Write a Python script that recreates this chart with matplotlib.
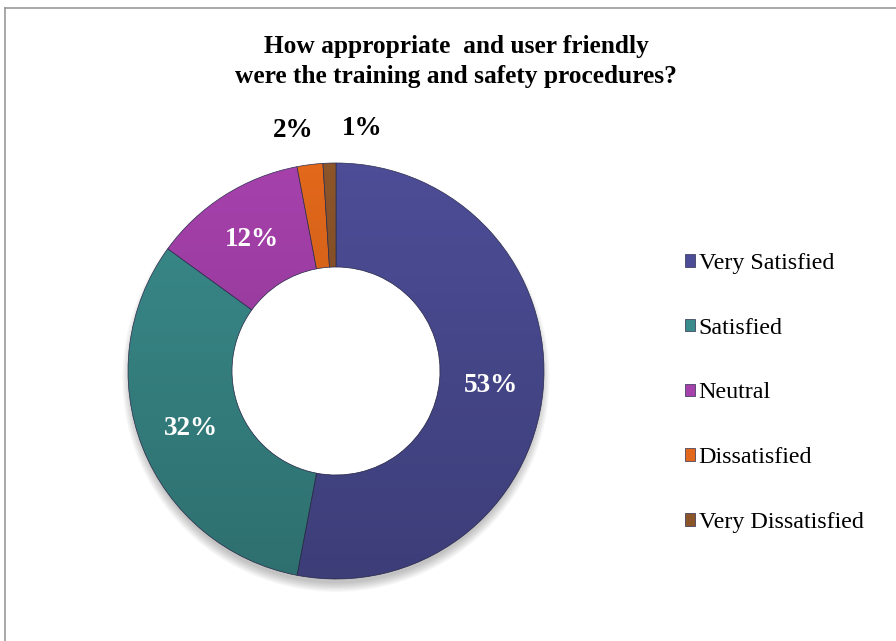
import numpy as np
import matplotlib
matplotlib.use("Agg")
import matplotlib.pyplot as plt
from matplotlib.lines import Line2D
from matplotlib.patches import Circle
import matplotlib.transforms as mtransforms

# ---- data -------------------------------------------------------------
categories = ["Very Satisfied", "Satisfied", "Neutral", "Dissatisfied",
              "Very Dissatisfied"]
shares = [53, 32, 12, 2, 1]
colors = ["#4C4D96", "#3A8B8B", "#A641AC", "#E2681B", "#8C5429"]
title_lines = ["How appropriate  and user friendly",
               "were the training and safety procedures?"]

W, H = 896, 641
plt.rcParams["font.family"] = ["Liberation Serif", "DejaVu Serif"]
fig = plt.figure(figsize=(W / 100, H / 100), dpi=100)
fig.patch.set_facecolor("white")

# chart frame (left and top edges visible)
fig.add_artist(Line2D([5 / W, 5 / W], [0, 1 - 8 / H], color="#9a9a9a",
                      lw=1.2, transform=fig.transFigure))
fig.add_artist(Line2D([5 / W, 1], [1 - 8 / H, 1 - 8 / H], color="#9a9a9a",
                      lw=1.2, transform=fig.transFigure))

# donut axes: centre (336, 371) px, outer radius 208 px
cx, cy, R = 336, 371, 208
half = 230
ax = fig.add_axes([(cx - half) / W, (H - cy - half) / H,
                   2 * half / W, 2 * half / H])
lim = half / R

# soft drop shadow under the ring
for k in range(8):
    ax.add_patch(Circle((0, -0.035), 0.985 + 0.006 * k, facecolor="#000000",
                        alpha=0.03, edgecolor="none", zorder=0))

wedges, texts, autotexts = ax.pie(
    shares, colors=colors, radius=1.0, startangle=90, counterclock=False,
    autopct=lambda p: f"{p:.0f}%", pctdistance=0.75,
    wedgeprops=dict(width=0.5, edgecolor="#2e2e50", linewidth=0.5),
    textprops=dict(color="white", fontsize=19.5, fontweight="bold"))

ax.add_patch(Circle((0, 0), 0.5, facecolor="white", edgecolor="none",
                    zorder=0.5))

# vertical shading on each segment (lighter top, darker bottom)
shade = np.zeros((256, 1, 4))
shade[..., 3] = np.linspace(0, 0.2, 256).reshape(-1, 1)
for w in wedges:
    im = ax.imshow(shade, extent=[-1, 1, -1, 1], origin="upper",
                   aspect="auto", zorder=w.get_zorder() + 0.1,
                   interpolation="bilinear")
    im.set_clip_path(w)

ax.set_xlim(-lim, lim)
ax.set_ylim(-lim, lim)
ax.set_aspect("equal")
ax.axis("off")

# small segments get their labels outside the ring, spread apart
offsets_px = {3: -12, 4: 34}
for i, (w, t) in enumerate(zip(wedges, autotexts)):
    if shares[i] < 5:
        ang = np.deg2rad((w.theta1 + w.theta2) / 2)
        t.set_position((1.165 * np.cos(ang), 1.165 * np.sin(ang)))
        t.set_color("black")
        t.set_transform(ax.transData + mtransforms.ScaledTranslation(
            offsets_px[i] / 100, 0, fig.dpi_scale_trans))

# title
fig.text(456 / W, 1 - 46 / H, title_lines[0], ha="center", va="center",
         fontsize=18.3, fontweight="bold")
fig.text(456 / W, 1 - 76 / H, title_lines[1], ha="center", va="center",
         fontsize=18.3, fontweight="bold")

# legend
leg = fig.legend(wedges, categories, loc="center left",
                 bbox_to_anchor=(685 / W, 1 - 393 / H), frameon=False,
                 fontsize=17.3, handlelength=0.42, handleheight=0.42,
                 handletextpad=0.15, labelspacing=1.82, borderpad=0,
                 borderaxespad=0)
for h in leg.legend_handles:
    h.set_linewidth(0.5)

fig.savefig("out.png", dpi=100, facecolor="white")
